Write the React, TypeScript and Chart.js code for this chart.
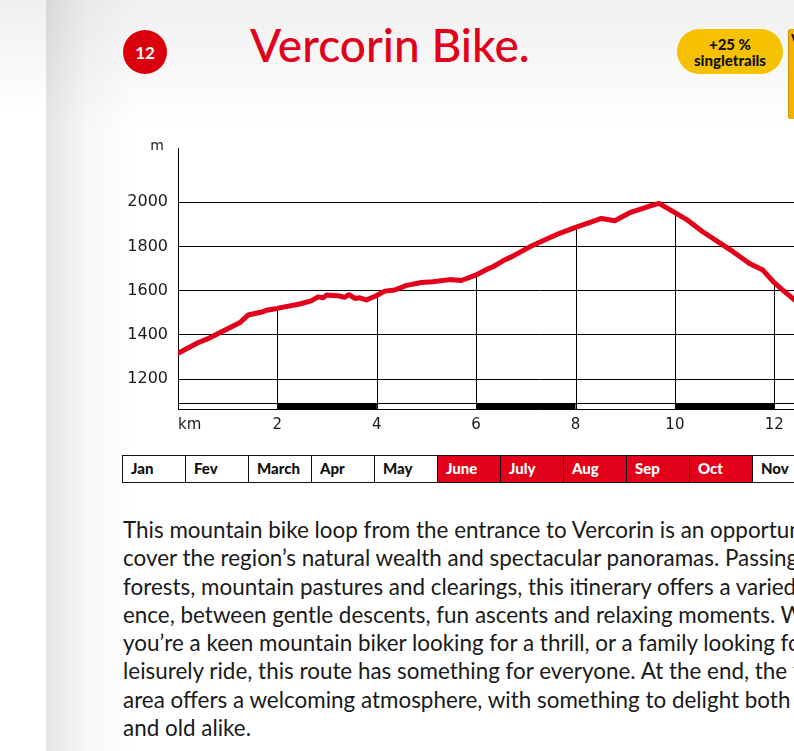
import React, { useEffect, useRef } from "react";
import { Chart, registerables } from "chart.js";

Chart.register(...registerables);

// ---------- data ----------
const distanceKm = [
  0, 0.4, 0.57, 0.97, 1.24, 1.41, 1.71, 1.78, 1.99, 2.45, 2.68, 2.82, 2.92, 2.99,
  3.25, 3.35, 3.44, 3.56, 3.66, 3.79, 3.99, 4.16, 4.36, 4.6, 4.9, 5.13, 5.47, 5.7,
  5.99, 6.21, 6.34, 6.54, 6.74, 7.08, 7.41, 7.68, 8.0, 8.28, 8.52, 8.79, 9.09, 9.36,
  9.49, 9.68, 10.0, 10.23, 10.56, 10.97, 11.17, 11.5, 11.77, 12.0, 12.17, 12.37, 12.55,
];
const elevationM = [
  1317, 1365, 1380, 1425, 1455, 1490, 1505, 1512, 1520, 1540, 1554, 1572, 1568, 1580,
  1576, 1570, 1582, 1565, 1568, 1558, 1577, 1598, 1603, 1624, 1637, 1640, 1650, 1646,
  1670, 1696, 1708, 1735, 1756, 1798, 1832, 1859, 1886, 1907, 1926, 1916, 1952, 1972,
  1982, 1994, 1952, 1922, 1866, 1806, 1776, 1723, 1693, 1636, 1603, 1565, 1530,
];
const xTickValues = [0, 2, 4, 6, 8, 10, 12, 14];
const yTickValues = [1200, 1400, 1600, 1800, 2000];
const dropLineKm = [2, 4, 6, 8, 10, 12, 14];
const kmBarSegments: [number, number][] = [
  [2, 4],
  [6, 8],
  [10, 12],
  [14, 16],
];
const months = ["Jan", "Fev", "March", "Apr", "May", "June", "July", "Aug", "Sep", "Oct", "Nov", "Dec"];
const seasonMonths = ["June", "July", "Aug", "Sep", "Oct"];
const routeNumber = "12";
const titleText = "Vercorin Bike.";
const badgeLines = ["+25 %", "singletrails"];
const xUnit = "km";
const yUnit = "m";
const bodyLines = [
  "This mountain bike loop from the entrance to Vercorin is an opportunity to dis-",
  "cover the region’s natural wealth and spectacular panoramas. Passing through",
  "forests, mountain pastures and clearings, this itinerary offers a varied experi-",
  "ence, between gentle descents, fun ascents and relaxing moments. Whether",
  "you’re a keen mountain biker looking for a thrill, or a family looking for a",
  "leisurely ride, this route has something for everyone. At the end, the finish",
  "area offers a welcoming atmosphere, with something to delight both young",
  "and old alike.",
];

const RED = "#e2001a";
const FONT = "Lato, 'Open Sans', sans-serif";
const TICK_FONT = "'DejaVu Sans', Lato, sans-serif";

function elevationAt(km: number): number | null {
  for (let i = 0; i < distanceKm.length - 1; i++) {
    const a = distanceKm[i];
    const b = distanceKm[i + 1];
    if (km >= a && km <= b) {
      const t = (km - a) / (b - a);
      return elevationM[i] + t * (elevationM[i + 1] - elevationM[i]);
    }
  }
  return null;
}

const decorPlugin = {
  id: "profileDecor",
  beforeDatasetsDraw(chart: any) {
    const { ctx, chartArea, scales } = chart;
    const x = scales.x;
    const y = scales.y;
    ctx.save();
    ctx.beginPath();
    ctx.rect(chartArea.left, chartArea.top, chartArea.right - chartArea.left, chartArea.bottom - chartArea.top);
    ctx.clip();
    const bottom = chartArea.bottom;
    const barTop = bottom - 6;
    ctx.fillStyle = "#000";
    kmBarSegments.forEach(([a, b]) => {
      const xa = x.getPixelForValue(a);
      const xb = x.getPixelForValue(b);
      ctx.fillRect(xa, barTop, xb - xa, bottom - barTop);
    });
    ctx.strokeStyle = "#000";
    ctx.lineWidth = 1;
    ctx.beginPath();
    ctx.moveTo(chartArea.left, Math.round(barTop) + 0.5);
    ctx.lineTo(chartArea.right, Math.round(barTop) + 0.5);
    ctx.stroke();
    dropLineKm.forEach((km) => {
      const e = elevationAt(km);
      if (e === null) return;
      const px = Math.round(x.getPixelForValue(km)) + 0.5;
      ctx.beginPath();
      ctx.moveTo(px, y.getPixelForValue(e));
      ctx.lineTo(px, bottom);
      ctx.stroke();
    });
    ctx.restore();
  },
  afterDraw(chart: any) {
    const { ctx, chartArea } = chart;
    ctx.save();
    ctx.fillStyle = "#1a1a1a";
    ctx.font = `14px ${TICK_FONT}`;
    ctx.textBaseline = "middle";
    ctx.textAlign = "right";
    ctx.fillText(yUnit, chartArea.left - 14, chartArea.top - 2);
    ctx.font = `15px ${TICK_FONT}`;
    ctx.textAlign = "left";
    ctx.fillText(xUnit, chartArea.left, chartArea.bottom + 16);
    ctx.restore();
  },
};

function ProfileChart() {
  const ref = useRef<HTMLCanvasElement | null>(null);
  useEffect(() => {
    if (!ref.current) return;
    const chart = new Chart(ref.current, {
      type: "line",
      data: {
        datasets: [
          {
            data: distanceKm.map((d, i) => ({ x: d, y: elevationM[i] })),
            borderColor: RED,
            borderWidth: 5,
            pointRadius: 0,
            tension: 0,
            borderJoinStyle: "round",
            borderCapStyle: "round",
            fill: false,
          },
        ],
      },
      options: {
        animation: false,
        responsive: false,
        devicePixelRatio: 1,
        layout: { padding: { top: 18, left: 0, right: 0, bottom: 0 } },
        plugins: { legend: { display: false }, tooltip: { enabled: false }, title: { display: false } },
        scales: {
          x: {
            type: "linear",
            min: 0,
            max: 14.53,
            afterBuildTicks: (s: any) => {
              s.ticks = xTickValues.map((v) => ({ value: v }));
            },
            afterFit: (s: any) => {
              s.height = 41;
              s.paddingLeft = 0;
              s.paddingRight = 0;
            },
            ticks: {
              callback: (v: any) => (v === 0 ? "" : String(v)),
              font: { family: TICK_FONT, size: 15 },
              color: "#1a1a1a",
              padding: 7,
              maxRotation: 0,
              autoSkip: false,
            },
            grid: { display: false, drawTicks: false },
            border: { display: true, color: "#000", width: 1 },
          },
          y: {
            type: "linear",
            min: 1066,
            max: 2244,
            afterBuildTicks: (s: any) => {
              s.ticks = yTickValues.map((v) => ({ value: v }));
            },
            afterFit: (s: any) => {
              s.width = 78;
              s.paddingTop = 0;
              s.paddingBottom = 0;
            },
            ticks: {
              callback: (v: any) => String(v),
              font: { family: TICK_FONT, size: 16 },
              color: "#1a1a1a",
              padding: 10,
              autoSkip: false,
            },
            grid: { color: "#000", lineWidth: 1, drawTicks: false },
            border: { display: true, color: "#000", width: 1 },
          },
        },
      },
      plugins: [decorPlugin],
    } as any);
    return () => chart.destroy();
  }, []);
  return (
    <canvas
      ref={ref}
      width={800}
      height={320}
      style={{ position: "absolute", left: 100, top: 130, width: 800, height: 320 }}
    />
  );
}

export default function App() {
  return (
    <div
      style={{
        position: "fixed",
        left: 0,
        top: 0,
        width: 794,
        height: 751,
        overflow: "hidden",
        background: "#fff",
        fontFamily: FONT,
      }}
    >
      {/* left strip */}
      <div
        style={{
          position: "absolute",
          left: 0,
          top: 0,
          width: 46,
          height: 751,
          background: "linear-gradient(to bottom, #efefef 0px, #ffffff 110px)",
        }}
      />
      {/* page */}
      <div
        style={{
          position: "absolute",
          left: 46,
          top: 0,
          width: 748,
          height: 751,
          background:
            "linear-gradient(to right, rgba(0,0,0,0.10) 0px, rgba(0,0,0,0.03) 40px, rgba(0,0,0,0) 90px), linear-gradient(to bottom, rgba(0,0,0,0.06) 0px, rgba(0,0,0,0) 130px), #fff",
        }}
      />
      {/* route number */}
      <div
        style={{
          position: "absolute",
          left: 123,
          top: 30,
          width: 44,
          height: 44,
          borderRadius: 22,
          background: "#da000e",
          color: "#fff",
          font: `bold 17px ${FONT}`,
          display: "flex",
          alignItems: "center",
          justifyContent: "center",
        }}
      >
        {routeNumber}
      </div>
      {/* title */}
      <div
        style={{
          position: "absolute",
          left: 250,
          top: 22,
          font: `500 46px ${FONT}`,
          lineHeight: "46px",
          color: RED,
          whiteSpace: "nowrap",
        }}
      >
        {titleText}
      </div>
      {/* badge */}
      <div
        style={{
          position: "absolute",
          left: 677,
          top: 29,
          width: 106,
          height: 45,
          borderRadius: 23,
          background: "#f6c100",
          color: "#111",
          font: `900 15px ${FONT}`,
          lineHeight: "16px",
          display: "flex",
          flexDirection: "column",
          alignItems: "center",
          justifyContent: "center",
        }}
      >
        {badgeLines.map((l) => (
          <div key={l}>{l}</div>
        ))}
      </div>
      <div
        style={{
          position: "absolute",
          left: 788,
          top: 29,
          width: 40,
          height: 90,
          borderRadius: 3,
          background: "#efb300",
          boxShadow: "inset 1px 0 0 #c99600",
        }}
      >
        <div style={{ position: "absolute", left: 3, top: 1, font: `900 12px ${FONT}`, color: "#111" }}>W</div>
      </div>
      <ProfileChart />
      {/* months */}
      <div style={{ position: "absolute", left: 122, top: 455, display: "flex" }}>
        {months.map((m, i) => {
          const on = seasonMonths.includes(m);
          return (
            <div
              key={m}
              style={{
                width: 64.5,
                height: 28,
                boxSizing: "border-box",
                border: "1.5px solid #111",
                marginLeft: i ? -1.5 : 0,
                background: on ? RED : "#fff",
                color: on ? "#fff" : "#111",
                font: `900 15px ${FONT}`,
                lineHeight: "25px",
                paddingLeft: 8,
                flex: "none",
              }}
            >
              {m}
            </div>
          );
        })}
      </div>
      {/* body text */}
      <div
        style={{
          position: "absolute",
          left: 122.7,
          top: 515,
          font: `23px ${FONT}`,
          lineHeight: "28.3px",
          color: "#1a1a1a",
          whiteSpace: "nowrap",
          transform: "scaleX(0.975)",
          transformOrigin: "left top",
        }}
      >
        {bodyLines.map((l) => (
          <div key={l}>{l}</div>
        ))}
      </div>
    </div>
  );
}
